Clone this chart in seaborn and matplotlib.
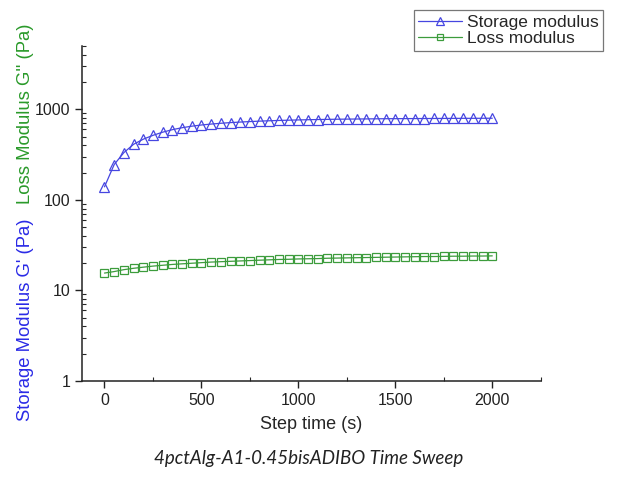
import numpy as np
import pandas as pd
import matplotlib
matplotlib.use("Agg")
import matplotlib.pyplot as plt
import seaborn as sns
from matplotlib.ticker import FixedLocator, NullFormatter, LogLocator

# step times (s), one point every 50 s
step_time = list(range(0, 2001, 50))

# storage modulus G' (Pa)
storage = [139, 245, 332, 410, 467, 515, 558, 595, 625, 650,
           670, 686, 700, 712, 722, 731, 739, 746, 752, 757,
           762, 766, 770, 773, 776, 778, 780, 782, 784, 786,
           787, 788, 789, 790, 791, 792, 793, 794, 794, 795, 796]

# loss modulus G'' (Pa)
loss = [15.5, 16.1, 16.9, 17.5, 18.0, 18.5, 18.9, 19.3, 19.6, 19.9,
        20.2, 20.5, 20.7, 20.9, 21.1, 21.3, 21.5, 21.7, 21.9, 22.0,
        22.2, 22.3, 22.4, 22.6, 22.7, 22.8, 22.9, 23.0, 23.1, 23.2,
        23.3, 23.4, 23.5, 23.6, 23.6, 23.7, 23.8, 23.8, 23.9, 23.9, 24.0]

BLUE = "#4646e0"
GREEN = "#3c9c3c"

df = pd.DataFrame({"t": step_time, "storage": storage, "loss": loss})

sns.set_style("ticks")
plt.rcParams["font.family"] = ["Liberation Sans", "DejaVu Sans"]

fig = plt.figure(figsize=(6.18, 4.79), dpi=100)
ax = fig.add_axes([0.133, 0.205, 0.742, 0.699])

sns.lineplot(data=df, x="t", y="storage", ax=ax, color=BLUE, lw=0.9,
             marker="^", markersize=7, markerfacecolor="none",
             markeredgecolor=BLUE, markeredgewidth=0.9,
             label="Storage modulus")
sns.lineplot(data=df, x="t", y="loss", ax=ax, color=GREEN, lw=0.9,
             marker="s", markersize=5.5, markerfacecolor="none",
             markeredgecolor=GREEN, markeredgewidth=0.9,
             label="Loss modulus")

ax.set_yscale("log")
ax.set_ylim(1, 5000)
ax.set_xlim(-115, 2250)
ax.set_yticks([1, 10, 100, 1000])
ax.set_yticklabels(["1", "10", "100", "1000"])
ax.yaxis.set_minor_locator(LogLocator(base=10, subs=np.arange(2, 10)))
ax.yaxis.set_minor_formatter(NullFormatter())
ax.set_xticks([0, 500, 1000, 1500, 2000])
ax.xaxis.set_minor_locator(FixedLocator([250, 750, 1250, 1750, 2250]))

ax.tick_params(axis="both", which="major", direction="out", length=5,
               width=1, labelsize=11.5, colors="#222222")
ax.tick_params(axis="both", which="minor", direction="in", length=3, width=0.8)
for s in ["left", "bottom"]:
    ax.spines[s].set_linewidth(1.1)
    ax.spines[s].set_color("#222222")
sns.despine(ax=ax)

ax.set_xlabel("Step time (s)", fontsize=13, labelpad=6)
ax.set_ylabel("")
fig.text(0.042, 0.332, "Storage Modulus G' (Pa)", rotation=90, color="#2a2ae6",
         fontsize=13.3, ha="center", va="center")
fig.text(0.042, 0.762, "Loss Modulus G'' (Pa)", rotation=90, color="#2a9a2a",
         fontsize=13.3, ha="center", va="center")

leg = ax.legend(loc="upper right", bbox_to_anchor=(0.99, 0.997),
                bbox_transform=fig.transFigure, frameon=True, fancybox=False,
                fontsize=12.5, borderpad=0.25, handlelength=2.5,
                handletextpad=0.3, labelspacing=0.1, markerscale=0.8)
leg.get_frame().set_edgecolor("#555555")
leg.get_frame().set_linewidth(0.9)

fig.text(0.5, 0.042, "4pctAlg-A1-0.45bisADIBO Time Sweep", ha="center",
         va="center", fontsize=13.5, style="italic", color="#222222",
         family=["Lato", "DejaVu Sans"])

fig.savefig("out.png", dpi=100)
